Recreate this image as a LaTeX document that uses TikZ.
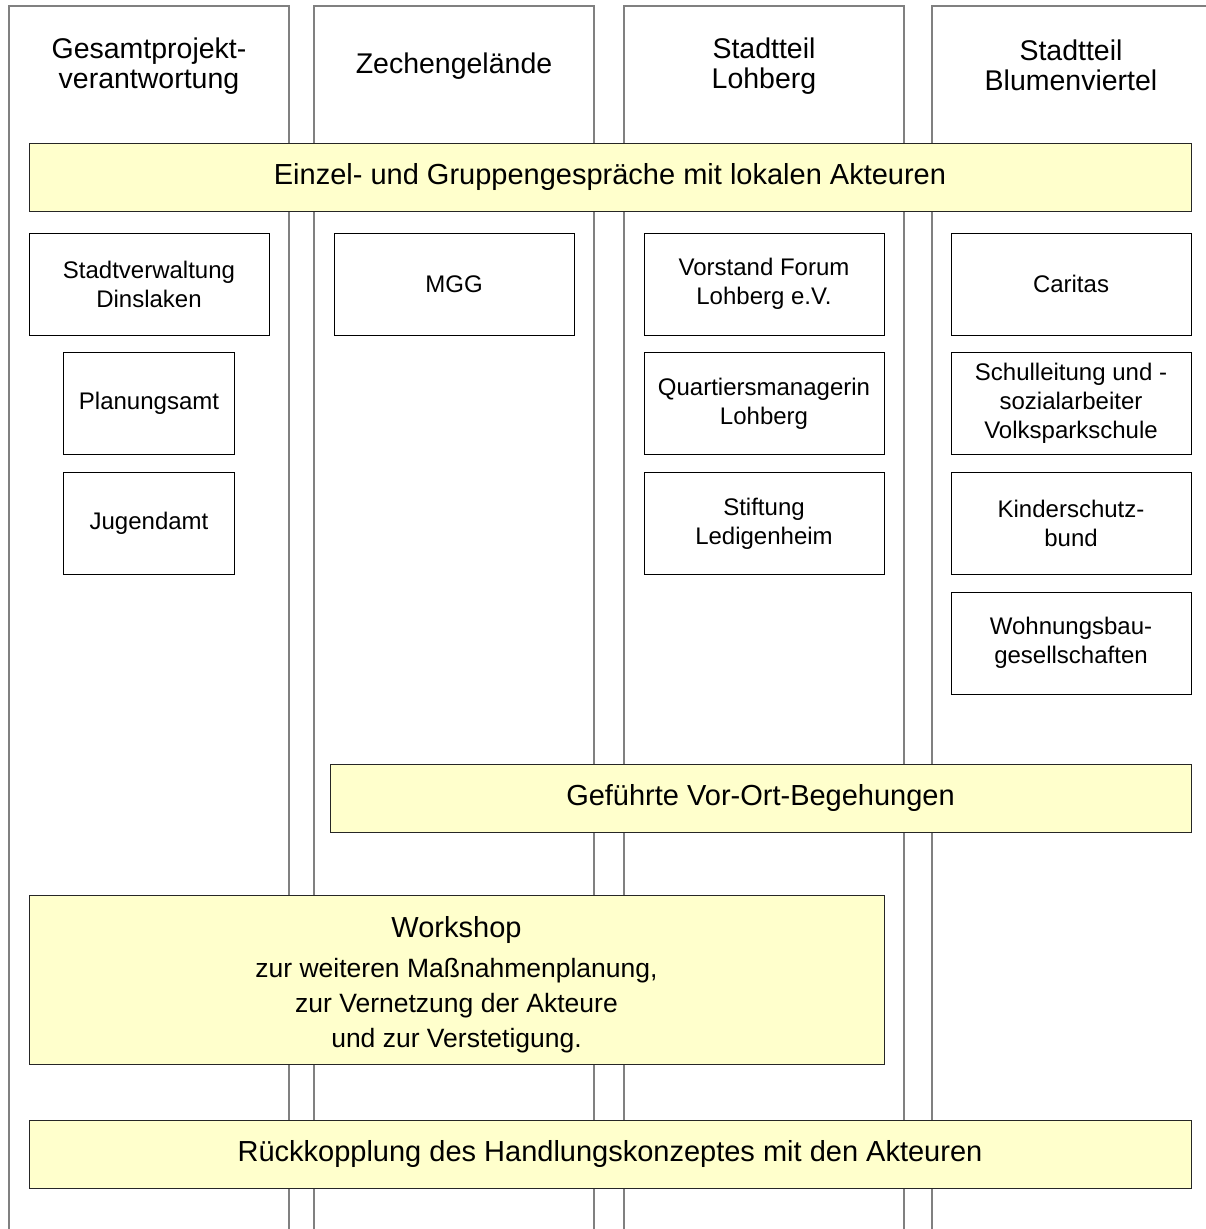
\documentclass[tikz,border=0pt]{standalone}
\usepackage{fontspec}
\setmainfont{Liberation Sans}
\definecolor{bandyellow}{HTML}{FFFFCC}
\definecolor{lanegrey}{HTML}{808080}
\tikzset{
  lane/.style={draw=lanegrey, line width=1.4pt},
  lanehead/.style={align=center, font=\fontsize{28.5}{30}\selectfont},
  band/.style={draw=black!85, line width=1pt, fill=bandyellow, align=center,
    font=\fontsize{29}{30}\selectfont, inner sep=0pt},
  actor/.style={draw=black, line width=1pt, fill=white, align=center,
    font=\fontsize{24}{29}\selectfont, inner sep=0pt,
    minimum width=240pt, minimum height=102pt},
  subactor/.style={actor, minimum width=171pt}
}
\newcommand{\wsline}[1]{{\fontsize{26.5}{30}\selectfont #1}}
\begin{document}
\begin{tikzpicture}[x=1pt, y=-1pt]
  \useasboundingbox (0,0) rectangle (1206,1229);
  % swim lanes
  \draw[lane] (9,1229) -- (9,6) -- (289,6) -- (289,1229);
  \draw[lane] (314,1229) -- (314,6) -- (594,6) -- (594,1229);
  \draw[lane] (624,1229) -- (624,6) -- (904,6) -- (904,1229);
  \draw[lane] (932,1229) -- (932,6) -- (1215,6);
  \node[lanehead] at (149,66) (hGesamt) {Gesamtprojekt-\\verantwortung};
  \node[lanehead] at (454,66) (hZeche) {Zechengelände};
  \node[lanehead] at (764,66) (hLohberg) {Stadtteil\\Lohberg};
  \node[lanehead] at (1071,65) (hBlumen) {Stadtteil\\Blumenviertel};
  % gespraeche
  \node[band, minimum width=1162pt, minimum height=68pt] at (610,177) (gespraeche)
    {Einzel- und Gruppengespräche mit lokalen Akteuren};
  \node[actor] at (149,284) (stadtverw) {Stadtverwaltung\\Dinslaken};
  \node[subactor] at (149,403.5) (planung) {Planungsamt};
  \node[subactor] at (149,523.5) (jugend) {Jugendamt};
  \node[actor] at (454,284) (mgg) {MGG};
  \node[actor] at (764,284) (forum) {Vorstand Forum\\Lohberg e.V.};
  \node[actor] at (764,403.5) (quartier) {Quartiersmanagerin\\Lohberg};
  \node[actor] at (764,523.5) (stiftung) {Stiftung\\Ledigenheim};
  \node[actor] at (1071,284) (caritas) {Caritas};
  \node[actor] at (1071,403.5) (schule) {Schulleitung und -\\sozialarbeiter\\Volksparkschule};
  \node[actor] at (1071,523.5) (kinder) {Kinderschutz-\\bund};
  \node[actor] at (1071,643) (wohnbau) {Wohnungsbau-\\gesellschaften};
  % begehungen, workshop, rueckkopplung
  \node[band, minimum width=861pt, minimum height=68pt] at (760.5,798) (begehung)
    {Geführte Vor-Ort-Begehungen};
  \node[band, minimum width=855pt, minimum height=169pt] at (456.5,979.5) (workshop) {};
  \node[align=center, font=\fontsize{29}{30}\selectfont, inner sep=0pt]
    at ([yshift=-5pt]workshop.center) (workshoptext)
    {Workshop\\[10pt]\wsline{zur weiteren Maßnahmenplanung,}\\[5pt]
     \wsline{zur Vernetzung der Akteure}\\[5pt]
     \wsline{und zur Verstetigung.}};
  \node[band, minimum width=1162pt, minimum height=68pt] at (610,1154) (rueck)
    {Rückkopplung des Handlungskonzeptes mit den Akteuren};
\end{tikzpicture}
\end{document}
